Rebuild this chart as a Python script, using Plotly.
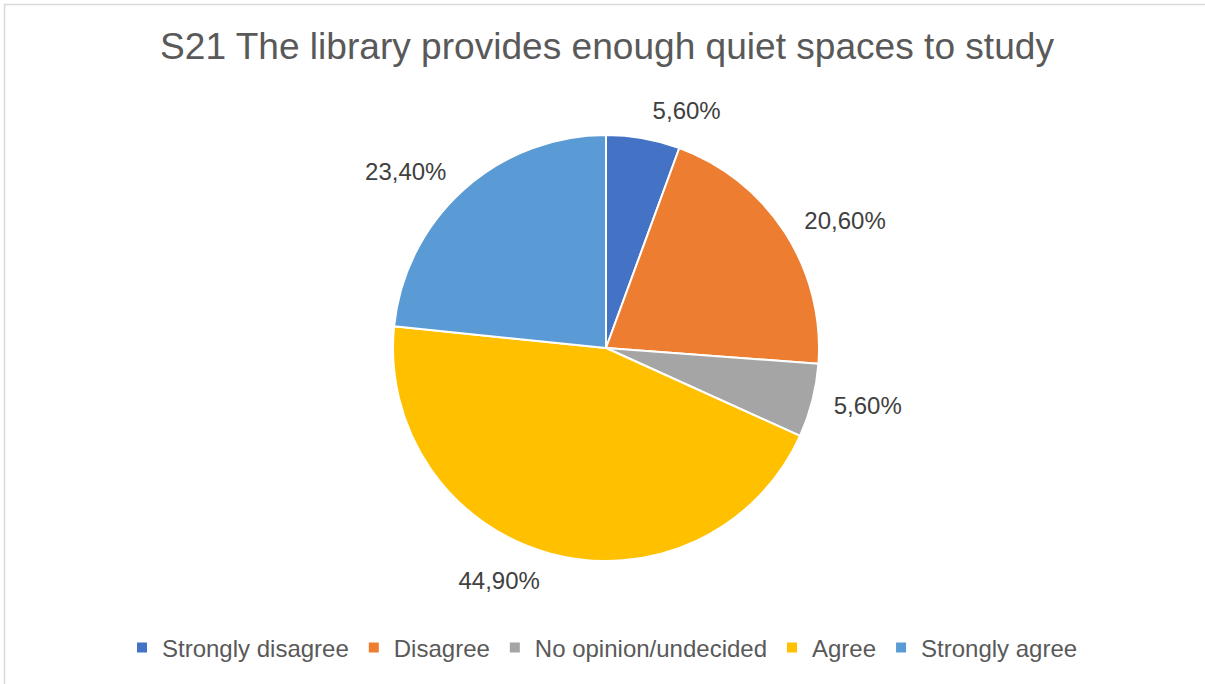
import plotly.graph_objects as go

categories = ["Strongly disagree", "Disagree", "No opinion/undecided", "Agree", "Strongly agree"]
values = [5.6, 20.6, 5.6, 44.9, 23.4]
colors = ["#4472C4", "#ED7D31", "#A5A5A5", "#FFC000", "#5B9BD5"]
title_text = "S21 The library provides enough quiet spaces to study"

labels_text = [f"{v:.2f}%".replace(".", ",") for v in values]

W, H = 1205, 684
cx, cy, r = 606, 348, 213
label_r = r + 15
FONT = "Arial, 'Liberation Sans', sans-serif"


def dom(rad):
    return dict(x=[(cx - rad) / W, (cx + rad) / W], y=[(H - cy - rad) / H, (H - cy + rad) / H])


fig = go.Figure()
fig.add_trace(go.Pie(
    labels=categories,
    values=values,
    textinfo="none",
    sort=False,
    direction="clockwise",
    rotation=0,
    marker=dict(colors=colors, line=dict(color="white", width=2)),
    domain=dom(r),
    showlegend=True,
))
# transparent companion pie used only to place the data labels slightly further out
fig.add_trace(go.Pie(
    labels=categories,
    values=values,
    text=labels_text,
    textinfo="text",
    textposition="outside",
    sort=False,
    direction="clockwise",
    rotation=0,
    marker=dict(colors=["rgba(0,0,0,0)"] * len(values), line=dict(width=0)),
    textfont=dict(family=FONT, size=24, color="#404040"),
    domain=dom(label_r),
    showlegend=False,
    hoverinfo="skip",
))

fig.update_layout(
    width=W, height=H,
    margin=dict(l=0, r=0, t=0, b=0),
    paper_bgcolor="white",
    plot_bgcolor="white",
    title=dict(text=title_text, x=607 / W, xanchor="center", y=1 - 46 / H, yanchor="middle",
               xref="paper", yref="paper",
               font=dict(family=FONT, size=37.1, color="#595959")),
    legend=dict(orientation="h", x=0.5, xanchor="center", y=1 - 648 / H, yanchor="middle",
                font=dict(family=FONT, size=24, color="#595959")),
    shapes=[dict(type="rect", xref="paper", yref="paper",
                 x0=4.5 / W, x1=1.2, y0=-0.2, y1=1 - 4.5 / H,
                 line=dict(color="#D9D9D9", width=1.5), fillcolor="rgba(0,0,0,0)")],
)

fig.write_html("out.html")
